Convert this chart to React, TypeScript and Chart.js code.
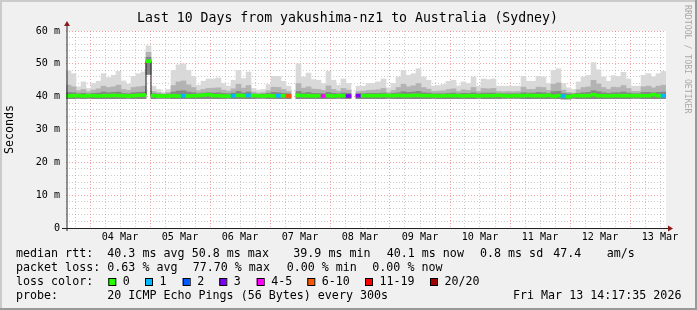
import React, { useEffect, useRef } from "react";
import { Chart, registerables } from "chart.js";

Chart.register(...registerables);

// ---------- data ----------
const COLUMN_HOURS = 2; // one smoke column = 2 hours
const FIRST_MIDNIGHT_HOUR = 9.6; // hours from graph start to 04 Mar 00:00
const RANGE_HOURS = 240;

const dayLabels = ["04 Mar", "05 Mar", "06 Mar", "07 Mar", "08 Mar", "09 Mar", "10 Mar", "11 Mar", "12 Mar", "13 Mar"];

// top of the lightest smoke (ms)
const maxRtt: (number | null)[] = [
  47.8, 47.0, 43.0, 44.5, 42.5, 44.0, 44.7, 47.0, 45.8, 46.5,
  47.7, 44.8, 43.8, 46.2, 47.0, 47.5, 55.5, 43.2, 42.2, 41.4,
  42.2, 48.0, 49.7, 50.0, 48.0, 46.2, 43.5, 44.7, 45.4, 45.4,
  45.7, 44.0, 43.2, 45.0, 48.0, 45.5, 47.5, 42.5, 42.0, 42.2,
  43.7, 46.2, 46.2, 44.7, 43.2, null, 50.0, 46.0, 47.2, 45.2,
  45.0, 44.0, 47.7, 45.0, 43.5, 45.4, 44.0, null, 43.2, 43.2,
  44.0, 44.0, 44.5, 45.4, 42.7, 44.0, 46.0, 48.0, 46.5, 47.0,
  48.5, 46.0, 45.0, 43.2, 43.4, 43.7, 44.7, 45.0, 43.3, 44.5,
  44.0, 46.0, 43.2, 45.4, 45.2, 45.4, 43.2, 43.2, 43.2, 43.2,
  43.2, 46.2, 44.7, 44.7, 46.2, 46.0, 44.0, 48.0, 48.5, 44.0,
  42.7, 42.2, 44.5, 46.0, 46.5, 50.4, 48.2, 46.0, 44.7, 46.4,
  46.2, 47.4, 45.4, 43.2, 43.2, 46.5, 47.0, 46.0, 47.0, 47.7,
];

// top of the medium smoke (ms)
const upperRtt: (number | null)[] = [
  43.5, 43.0, 41.8, 42.2, 41.5, 42.0, 42.4, 43.2, 42.8, 43.0,
  43.5, 42.2, 41.9, 42.8, 43.0, 43.2, 53.5, 41.6, 41.2, 40.9,
  41.3, 43.4, 44.5, 44.8, 43.6, 42.8, 41.8, 42.2, 42.5, 42.6,
  42.7, 42.0, 41.7, 42.4, 43.8, 42.6, 43.4, 41.4, 41.1, 41.2,
  41.8, 42.9, 42.8, 42.2, 41.6, null, 44.0, 42.6, 43.0, 42.3,
  42.2, 41.9, 43.3, 42.2, 41.7, 42.5, 42.0, null, 41.6, 41.7,
  41.9, 42.0, 42.1, 42.5, 41.3, 41.9, 42.8, 43.8, 43.0, 43.3,
  44.0, 42.8, 42.3, 41.6, 41.7, 41.8, 42.2, 42.4, 41.6, 42.1,
  41.9, 42.8, 41.6, 42.5, 42.4, 42.5, 41.6, 41.5, 41.6, 41.5,
  41.6, 42.9, 42.2, 42.2, 42.9, 42.8, 41.9, 43.8, 44.2, 42.0,
  41.3, 41.1, 42.1, 42.8, 43.0, 45.0, 43.9, 42.8, 42.2, 42.9,
  42.8, 43.4, 42.5, 41.6, 41.6, 43.0, 43.2, 42.7, 43.2, 43.5,
];

// top of the dark smoke core (ms)
const coreRtt: (number | null)[] = [
  41.3, 41.2, 40.9, 41.0, 40.8, 41.0, 41.1, 41.4, 41.2, 41.3,
  41.4, 41.0, 40.9, 41.2, 41.3, 41.4, 52.0, 40.9, 40.8, 40.7,
  40.8, 41.4, 41.7, 41.8, 41.4, 41.2, 40.9, 41.1, 41.2, 41.1,
  41.2, 41.0, 40.9, 41.1, 41.6, 41.1, 41.4, 40.8, 40.7, 40.8,
  41.0, 41.3, 41.2, 41.0, 40.9, null, 41.6, 41.1, 41.3, 41.0,
  41.0, 40.9, 41.3, 41.0, 40.9, 41.1, 41.0, null, 40.9, 40.9,
  41.0, 41.0, 41.0, 41.1, 40.8, 41.0, 41.2, 41.5, 41.3, 41.4,
  41.6, 41.2, 41.1, 40.9, 40.9, 40.9, 41.0, 41.1, 40.9, 41.0,
  41.0, 41.2, 40.9, 41.1, 41.1, 41.1, 40.9, 40.9, 40.9, 40.9,
  40.9, 41.2, 41.1, 41.1, 41.3, 41.2, 41.0, 41.5, 41.6, 41.0,
  40.8, 40.8, 41.0, 41.2, 41.3, 41.8, 41.5, 41.2, 41.0, 41.2,
  41.2, 41.4, 41.1, 40.9, 40.9, 41.3, 41.3, 41.2, 41.3, 41.4,
];

// bottom of the smoke (ms)
const lowRtt: (number | null)[] = [
  39.4, 39.4, 39.5, 39.4, 39.5, 39.4, 39.4, 39.4, 39.4, 39.4,
  39.4, 39.4, 39.5, 39.4, 39.4, 39.4, 46.8, 39.4, 39.5, 39.5,
  39.5, 39.4, 39.4, 39.4, 39.4, 39.4, 39.4, 39.4, 39.4, 39.4,
  39.4, 39.4, 39.5, 39.4, 39.4, 39.4, 39.4, 39.4, 39.5, 39.5,
  39.4, 39.4, 39.4, 39.4, 39.4, null, 39.4, 39.4, 39.4, 39.4,
  39.4, 39.4, 39.4, 39.4, 39.5, 39.4, 39.4, null, 39.4, 39.4,
  39.4, 39.4, 39.4, 39.4, 39.5, 39.4, 39.4, 39.4, 39.4, 39.4,
  39.4, 39.4, 39.4, 39.5, 39.4, 39.4, 39.4, 39.4, 39.4, 39.4,
  39.4, 39.4, 39.5, 39.4, 39.4, 39.4, 39.4, 39.5, 39.5, 39.5,
  39.5, 39.4, 39.4, 39.4, 39.4, 39.4, 39.4, 39.4, 39.4, 39.3,
  39.3, 39.5, 39.4, 39.4, 39.4, 39.4, 39.4, 39.4, 39.4, 39.4,
  39.4, 39.4, 39.4, 39.5, 39.5, 39.4, 39.4, 39.4, 39.4, 39.4,
];

// median round-trip time (ms)
const medianRtt: (number | null)[] = [
  40.2, 40.3, 40.3, 40.2, 40.3, 40.3, 40.2, 40.3, 40.3, 40.4,
  40.3, 40.3, 40.2, 40.3, 40.4, 40.5, 50.8, 40.3, 40.2, 40.2,
  40.2, 40.3, 40.2, 40.3, 40.2, 40.3, 40.3, 40.5, 40.6, 40.3,
  40.3, 40.2, 40.2, 40.3, 40.4, 40.3, 40.4, 40.3, 40.3, 40.2,
  40.3, 40.2, 40.3, 40.3, 40.2, null, 40.4, 40.3, 40.3, 40.2,
  40.3, 40.2, 40.3, 40.2, 40.3, 40.3, 40.2, null, 40.3, 40.3,
  40.3, 40.3, 40.3, 40.4, 40.3, 40.3, 40.4, 40.3, 40.3, 40.4,
  40.4, 40.3, 40.3, 40.3, 40.2, 40.3, 40.3, 40.3, 40.3, 40.2,
  40.3, 40.3, 40.2, 40.3, 40.3, 40.3, 40.4, 40.3, 40.2, 40.3,
  40.3, 40.3, 40.4, 40.3, 40.3, 40.3, 40.4, 40.1, 40.3, 40.2,
  40.0, 40.3, 40.3, 40.3, 40.3, 40.6, 40.3, 40.3, 40.2, 40.3,
  40.3, 40.3, 40.3, 40.3, 40.3, 40.3, 40.3, 40.6, 40.3, 40.3,
];

// loss class per column (index into lossLabels / lossColors)
const lossClass: number[] = [
  0, 0, 0, 0, 0, 0, 0, 0, 0, 0,
  0, 0, 0, 0, 0, 0, 0, 0, 0, 0,
  0, 0, 0, 1, 0, 0, 0, 0, 0, 0,
  0, 0, 0, 1, 0, 0, 1, 0, 0, 0,
  0, 0, 1, 0, 5, 0, 0, 0, 0, 0,
  0, 4, 0, 0, 0, 0, 3, 0, 3, 0,
  0, 0, 0, 0, 0, 0, 0, 0, 0, 0,
  0, 0, 0, 0, 0, 0, 0, 0, 0, 0,
  0, 0, 0, 0, 0, 0, 0, 0, 0, 0,
  0, 0, 0, 0, 0, 0, 0, 0, 0, 1,
  0, 0, 0, 0, 0, 0, 0, 0, 0, 0,
  0, 0, 0, 0, 0, 0, 0, 0, 0, 1,
];

const lossLabels = ["0", "1", "2", "3", "4-5", "6-10", "11-19", "20/20"];
const lossColors = ["#26ff00", "#00b8ff", "#0059ff", "#7e00ff", "#ff00ff", "#ff5500", "#ff0000", "#a10000"];

const titleText = "Last 10 Days from yakushima-nz1 to Australia (Sydney)";
const yAxisTitle = "Seconds";
const medianStats = ["40.3 ms avg", "50.8 ms max", "39.9 ms min", "40.1 ms now", "0.8 ms sd", "47.4", "am/s"];
const lossStats = ["0.63 % avg", "77.70 % max", "0.00 % min", "0.00 % now"];
const probeText = "20 ICMP Echo Pings (56 Bytes) every 300s";
const dateText = "Fri Mar 13 14:17:35 2026";
const watermark = "RRDTOOL / TOBI OETIKER";

// ---------- layout (pixels) ----------
const W = 697;
const H = 310;
const MONO = '"DejaVu Sans Mono", monospace';
const medianStatX = [107.3, 191.7, 293.3, 386.7, 480, 553.3, 606.7];
const lossStatX = [107.3, 192.7, 286.7, 372.3];
const lossBoxX = [108.3, 145, 182.7, 219.3, 256.7, 307.3, 365, 430];
const legendY = [253.5, 268, 282, 296];

const colCenter = (i: number) => i * COLUMN_HOURS + COLUMN_HOURS / 2;
const barData = (lo: (number | null)[], hi: (number | null)[]) =>
  hi.map((v, i) => ({ x: colCenter(i), y: v == null || lo[i] == null ? null : [lo[i] as number, v] }));

export default function App() {
  const ref = useRef<HTMLCanvasElement>(null);

  useEffect(() => {
    const canvas = ref.current!;

    const framePlugin = {
      id: "rrdFrame",
      beforeDraw(chart: any) {
        const { ctx, chartArea: a } = chart;
        ctx.save();
        ctx.fillStyle = "#f0f0f0";
        ctx.fillRect(0, 0, W, H);
        ctx.fillStyle = "#cbcbcb";
        ctx.fillRect(0, 0, W, 2);
        ctx.fillRect(0, 0, 2, H);
        ctx.fillStyle = "#999999";
        ctx.fillRect(0, H - 2, W, 2);
        ctx.fillRect(W - 2, 0, 2, H);
        ctx.fillStyle = "#ffffff";
        ctx.fillRect(a.left, a.top, a.right - a.left, a.bottom - a.top);
        ctx.restore();
      },
      afterDraw(chart: any) {
        const { ctx, chartArea: a } = chart;
        ctx.save();
        // axes
        ctx.strokeStyle = "#202020";
        ctx.lineWidth = 1;
        ctx.beginPath();
        ctx.moveTo(a.left + 1, a.bottom + 3);
        ctx.lineTo(a.left + 1, a.top - 6);
        ctx.moveTo(a.left - 4, a.bottom + 0.5);
        ctx.lineTo(a.right + 3, a.bottom + 0.5);
        ctx.stroke();
        // arrows
        ctx.fillStyle = "#8b1a1a";
        ctx.beginPath();
        ctx.moveTo(a.left - 2, a.top - 5);
        ctx.lineTo(a.left + 4, a.top - 5);
        ctx.lineTo(a.left + 1, a.top - 10);
        ctx.closePath();
        ctx.fill();
        ctx.beginPath();
        ctx.moveTo(a.right + 2, a.bottom - 2.5);
        ctx.lineTo(a.right + 2, a.bottom + 3.5);
        ctx.lineTo(a.right + 7, a.bottom + 0.5);
        ctx.closePath();
        ctx.fill();

        // title
        ctx.fillStyle = "#000";
        ctx.font = `13.2px ${MONO}`;
        ctx.textAlign = "center";
        ctx.textBaseline = "middle";
        ctx.fillText(titleText, 347.5, 19);

        // legend
        ctx.font = `11.66px ${MONO}`;
        ctx.textAlign = "left";
        ctx.fillText("median rtt:", 16, legendY[0]);
        medianStats.forEach((t, i) => ctx.fillText(t, medianStatX[i], legendY[0]));
        ctx.fillText("packet loss:", 16, legendY[1]);
        lossStats.forEach((t, i) => ctx.fillText(t, lossStatX[i], legendY[1]));
        ctx.fillText("loss color:", 16, legendY[2]);
        lossLabels.forEach((t, i) => {
          const bx = lossBoxX[i];
          ctx.fillStyle = lossColors[i];
          ctx.fillRect(bx, legendY[2] - 4, 7, 7);
          ctx.strokeStyle = "#000";
          ctx.strokeRect(bx + 0.5, legendY[2] - 3.5, 7, 7);
          ctx.fillStyle = "#000";
          ctx.fillText(t, bx + 14.5, legendY[2]);
        });
        ctx.fillText("probe:", 16, legendY[3]);
        ctx.fillText(probeText, 107.3, legendY[3]);
        ctx.fillText(dateText, 513, legendY[3]);

        // watermark
        ctx.save();
        ctx.translate(687, 5);
        ctx.rotate(Math.PI / 2);
        ctx.font = `8.2px ${MONO}`;
        ctx.fillStyle = "#a8a8a8";
        ctx.textBaseline = "middle";
        ctx.fillText(watermark, 0, 0);
        ctx.restore();
        ctx.restore();
      },
    };

    const xTicks: { value: number }[] = [];
    for (let k = 0; FIRST_MIDNIGHT_HOUR - 6 + 6 * k <= RANGE_HOURS; k++) {
      xTicks.push({ value: FIRST_MIDNIGHT_HOUR - 6 + 6 * k });
    }
    const tickKind = (v: number) => (((Math.round((v - FIRST_MIDNIGHT_HOUR) / 6) % 4) + 4) % 4);

    const minorGrid = "rgba(140,140,140,0.45)";
    const majorGrid = "rgba(235,90,90,0.55)";

    const chart = new Chart(canvas, {
      type: "bar",
      data: {
        datasets: [
          {
            data: medianRtt.map((v, i) => ({ x: colCenter(i), y: v == null ? null : [v - 0.45, v + 0.45] })),
            backgroundColor: lossClass.map((c) => lossColors[c]),
            order: 0,
          },
          {
            type: "line",
            data: medianRtt.map((v, i) => ({ x: colCenter(i), y: v })),
            borderColor: "#202020",
            borderWidth: 1,
            pointRadius: 0,
            stepped: "middle",
            spanGaps: false,
            order: 1,
          } as any,
          { data: barData(lowRtt, coreRtt), backgroundColor: "#858585", order: 2 },
          { data: barData(lowRtt, upperRtt), backgroundColor: "#b3b3b3", order: 3 },
          { data: barData(lowRtt, maxRtt), backgroundColor: "#d9d9d9", order: 4 },
        ] as any,
      },
      options: {
        responsive: false,
        animation: false,
        devicePixelRatio: 1,
        events: [],
        layout: { padding: { top: 31, right: 31, bottom: 0, left: 0 } },
        datasets: {
          bar: { grouped: false, barPercentage: 1, categoryPercentage: 1, borderWidth: 0 },
        },
        plugins: { legend: { display: false }, tooltip: { enabled: false }, title: { display: false } },
        scales: {
          x: {
            type: "linear",
            min: 0,
            max: RANGE_HOURS,
            offset: false,
            z: 1,
            afterFit: (s: any) => {
              s.height = 82;
            },
            afterBuildTicks: (s: any) => {
              s.ticks = xTicks.map((t) => ({ ...t }));
            },
            ticks: {
              autoSkip: false,
              maxRotation: 0,
              minRotation: 0,
              padding: 3,
              color: "#000",
              font: { family: MONO, size: 10.1 },
              callback: (v: any) => {
                const kind = tickKind(Number(v));
                if (kind !== 2) return "";
                const idx = Math.floor((Number(v) - FIRST_MIDNIGHT_HOUR) / 24);
                return dayLabels[idx] ?? "";
              },
            },
            grid: {
              drawTicks: false,
              offset: false,
              lineWidth: 1,
              color: (c: any) => (c.tick && tickKind(c.tick.value) === 0 ? majorGrid : minorGrid),
            },
            border: { display: false, dash: [1, 2] },
          },
          y: {
            type: "linear",
            min: 0,
            max: 60,
            z: 1,
            afterFit: (s: any) => {
              s.width = 66;
            },
            ticks: {
              stepSize: 2,
              autoSkip: false,
              padding: 6,
              color: "#000",
              font: { family: MONO, size: 10.1 },
              callback: (v: any) => {
                const n = Number(v);
                if (n === 0) return "0";
                return n % 10 === 0 ? `${n} m` : "";
              },
            },
            grid: {
              drawTicks: false,
              lineWidth: 1,
              color: (c: any) => (c.tick && c.tick.value % 10 === 0 ? majorGrid : minorGrid),
            },
            border: { display: false, dash: [1, 2] },
            title: {
              display: true,
              text: yAxisTitle,
              color: "#000",
              font: { family: MONO, size: 11.66 },
              padding: { top: 3, bottom: 0 },
            },
          },
        },
      } as any,
      plugins: [framePlugin],
    });

    return () => chart.destroy();
  }, []);

  return (
    <div style={{ position: "fixed", left: 0, top: 0, width: W, height: H }}>
      <canvas ref={ref} width={W} height={H} style={{ display: "block", width: W, height: H }} />
    </div>
  );
}
